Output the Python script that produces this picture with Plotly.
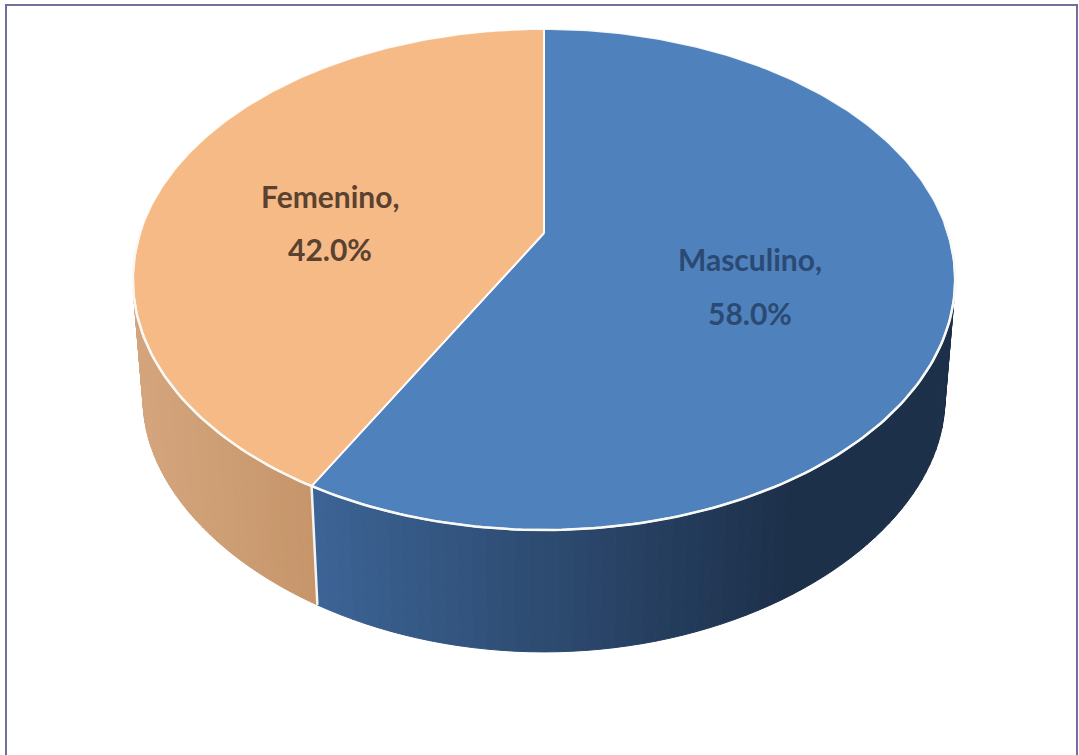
import math
import plotly.graph_objects as go

categories = ["Masculino", "Femenino"]
values = [58.0, 42.0]
top_colors = ["#4f81bd", "#f6ba87"]
wall_left = [(60, 100, 150), (212, 165, 125)]
wall_right = [(29, 48, 74), (198, 149, 106)]
label_pos = [(750, 259, 313), (330, 196, 249)]
label_colors = ["#2b4a73", "#5a4130"]

W, H = 1079, 755
CX, CY, A, B, K = 544, 233, 404, 241.9, 0.1856
S, DY = 0.975, 124
B2, K2 = 219.7, 0.255


def top(t):
    u, v = math.sin(t), -math.cos(t)
    d = 1 - K * v
    return CX + A * u / d, CY + B * v / d


def bottom(t):
    x, _ = top(t)
    v = -math.cos(t)
    return CX + S * (x - CX), CY + DY + B2 * v / (1 - K2 * v)


def arc(f, a, b, n=200):
    pts = [f(a + (b - a) * i / n) for i in range(n + 1)]
    return [p[0] for p in pts], [p[1] for p in pts]


fig = go.Figure()
total = sum(values)
split = values[0] / total * 2 * math.pi
ranges = [(0, split), (split, 2 * math.pi)]
WALL_START = 1.58
WALL_END = 2 * math.pi - 1.62
visible = [(WALL_START, split), (split, WALL_END)]


def lerp(c1, c2, f):
    return "rgb(%d,%d,%d)" % tuple(round(c1[i] + (c2[i] - c1[i]) * f) for i in range(3))


# side walls, painted as narrow gradient strips
for idx, (a, b) in enumerate(visible):
    n = 70
    for i in range(n):
        t0 = a + (b - a) * i / n
        t1 = a + (b - a) * (i + 1) / n
        x1, y1 = arc(top, t0, t1, 3)
        x2, y2 = arc(bottom, t0, t1, 3)
        xm = (x1[0] + x1[-1]) / 2
        if idx == 0:
            f = min(1, max(0, (xm - top(split)[0]) / 480))
            color = lerp(wall_left[0], wall_right[0], f)
        else:
            f = min(1, max(0, (xm - top(WALL_END)[0]) / (top(split)[0] - top(WALL_END)[0])))
            color = lerp(wall_left[1], wall_right[1], f)
        fig.add_trace(go.Scatter(
            x=x1 + x2[::-1] + [x1[0]], y=y1 + y2[::-1] + [y1[0]],
            mode="lines", fill="toself", fillcolor=color,
            line=dict(color=color, width=1), hoverinfo="skip", showlegend=False))

# seam between the two walls
sx0, sy0 = top(split)
sx1, sy1 = bottom(split)
fig.add_trace(go.Scatter(x=[sx0, sx1], y=[sy0, sy1], mode="lines",
                         line=dict(color="#f4f4f0", width=2.5),
                         hoverinfo="skip", showlegend=False))

# top faces
for (a, b), name, color in zip(ranges, categories, top_colors):
    x, y = arc(top, a, b)
    fig.add_trace(go.Scatter(
        x=[CX] + x + [CX], y=[CY] + y + [CY], mode="lines", fill="toself",
        fillcolor=color, line=dict(color="rgba(255,255,255,0.9)", width=2),
        name=name, hoverinfo="name", showlegend=False))

# front rim highlight
x, y = arc(top, WALL_START - 0.05, WALL_END + 0.05)
fig.add_trace(go.Scatter(x=x, y=y, mode="lines", line=dict(color="#f8f8f4", width=2.5),
                         hoverinfo="skip", showlegend=False))

annotations = []
for name, val, pos, col in zip(categories, values, label_pos, label_colors):
    for text, yy in ((name + ",", pos[1]), ("%.1f%%" % val, pos[2])):
        annotations.append(dict(x=pos[0], y=yy, xref="x", yref="y", text=text, showarrow=False,
                                font=dict(family="Lato", size=30, color=col, weight="bold"),
                                xanchor="center", yanchor="middle"))

fig.update_layout(
    width=W, height=H, margin=dict(l=0, r=0, t=0, b=0),
    paper_bgcolor="white", plot_bgcolor="white", showlegend=False,
    xaxis=dict(range=[0, W], visible=False, fixedrange=True),
    yaxis=dict(range=[H, 0], visible=False, fixedrange=True),
    annotations=annotations,
    shapes=[dict(type="path", xref="x", yref="y",
                 path="M 6 %d L 6 5 L 1077 5 L 1077 %d" % (H + 5, H + 5),
                 line=dict(color="#70709f", width=2), layer="below")],
)
fig.write_html("out.html", config={"displayModeBar": False},
               post_script="document.body.style.margin='0';document.body.style.overflow='hidden';")
